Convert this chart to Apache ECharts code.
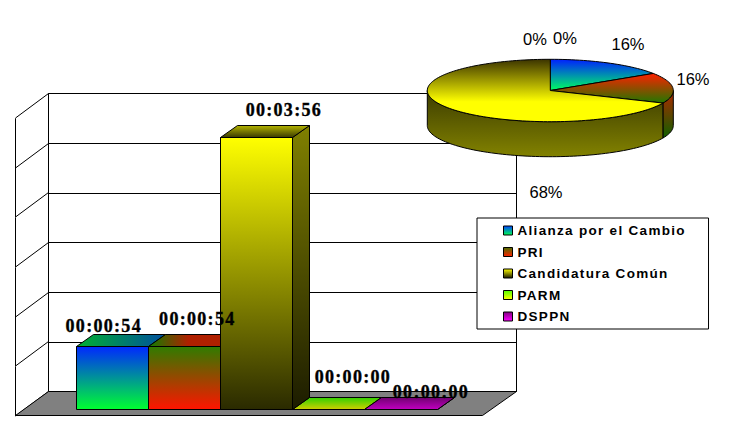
<!DOCTYPE html>
<html><head><meta charset="utf-8">
<style>
html,body{margin:0;padding:0;background:#fff}
#c{width:731px;height:435px}
svg text[style*="bold"]{letter-spacing:1.3px}
</style>
<script src="https://cdn.jsdelivr.net/npm/echarts@6/dist/echarts.min.js"></script>
</head><body><div id="c"></div>
<script>
// ---- data ----
const parties = ['Alianza por el Cambio','PRI','Candidatura Común','PARM','DSPPN'];
const seconds = [54.5,54.5,236,0,0];
const axisTicks = [0,43.2,86.4,129.6,172.8,216,259.2];
const axisMax = 259.2, axisStep = 43.2;

// ---- styling ----
const g=(a,b,x2=0,y2=1)=>new echarts.graphic.LinearGradient(0,0,x2,y2,[{offset:0,color:a},{offset:1,color:b}]);
const g3=(a,m,o,b)=>new echarts.graphic.LinearGradient(0,0,0,1,[{offset:0,color:a},{offset:o,color:m},{offset:1,color:b}]);
const barPaint=[
 {front:g('#0028ff','#00ff30'),top:g('#00b030','#0050a0',1,0),side:g('#0028ff','#00ff30')},
 {front:g('#2f7c00','#ff1400'),top:g('#108000','#b02000',.45,0),side:g('#2f7c00','#ff1400')},
 {front:g('#ffff00','#2a2a00'),top:g('#b4b400','#3a3a00'),side:g('#808000','#1c1c00')},
 {front:g('#60ff00','#ffff00'),top:g('#30d000','#d0d000'),side:g('#60ff00','#ffff00')},
 {front:g('#800080','#ff00ff'),top:g('#700070','#c000c0'),side:g('#800080','#ff00ff')}
];
const legendPaint=[g('#0040ff','#00ff50'),g('#4a7000','#ff2000'),g('#ffff00','#1a1a00'),g('#50ff00','#ffff00'),g('#800080','#ff00ff')];
const pieFace=[g('#0020ff','#00ff60'),g('#ff2000','#207800'),g3('#3c3400','#ffff00',.68,'#ffff00')];
const pieRim=[g('#0020ff','#00ff60'),g('#b02800','#106000'),g('#3c3c00','#828200')];
const ink='#000';
const depth=[17,-12];
const labelNudge=[[-9,-21],[12.5,-28],[27,-28],[24,-33],[30,-18]];
const pieLabelAt=[[628,44],[693,79],[546,192],[565,38],[535,39]];
const total=seconds.reduce((a,b)=>a+b,0);
const pad=n=>String(n).padStart(2,'0');
const clock=s=>{s=Math.floor(s);return pad(Math.floor(s/3600))+':'+pad(Math.floor(s/60)%60)+':'+pad(s%60)};
const snap=v=>Math.round(v-.5)+.5;

const poly=(pts,fill)=>({type:'polygon',shape:{points:pts},style:{fill,stroke:ink,lineWidth:1}});
const line=(a,b)=>({type:'line',shape:{x1:a[0],y1:a[1],x2:b[0],y2:b[1]},style:{stroke:ink,lineWidth:1,fill:null}});

function barSeries(i){
 return {type:'custom',name:parties[i],xAxisIndex:1,yAxisIndex:1,z:5+(i<3?i:-1),
  data:[[i,seconds[i]]],
  renderItem(p,api){
   const top=api.coord([api.value(0),api.value(1)]),base=api.coord([api.value(0),0]);
   const w=api.size([1,0])[0],[dx,dy]=depth;
   const xl=snap(top[0]-w/2),xr=snap(top[0]+w/2),yt=snap(top[1]),yb=snap(base[1]);
   const kids=[
     poly([[xr,yb],[xr+dx,yb+dy],[xr+dx,yt+dy],[xr,yt]],barPaint[i].side),
     poly([[xl,yb],[xr,yb],[xr,yt],[xl,yt]],barPaint[i].front),
     poly([[xl,yt],[xr,yt],[xr+dx,yt+dy],[xl+dx,yt+dy]],barPaint[i].top)
   ];
   return {type:'group',children:kids};
  }};
}
const K=31.2/123;
function squash(pt,cy){return [pt[0],cy+(pt[1]-cy)*K]}
let cum=0;
const pieData=seconds.map((v,i)=>{const d=[1,cum,v,i];cum+=v;return d});
const pieSeries={type:'custom',coordinateSystem:'polar',z:8,data:pieData,
 encode:{radius:0,angle:1},
 renderItem(p,api){
  const s=api.value(1),v=api.value(2),i=api.value(3);
  const ctr=api.coord([0,0]),cy=ctr[1],rimD=35,kids=[];
  if(v>0){
   const arc=(a,b)=>{const n=Math.max(2,Math.ceil((b-a)/total*180)),o=[];
     for(let k=0;k<=n;k++)o.push(squash(api.coord([1,a+(b-a)*k/n]),cy));return o};
   const qA=total/4,qB=total*3/4,a=Math.max(s,qA),b=Math.min(s+v,qB);
   if(b>a){const t=arc(a,b);
     kids.push(poly(t.concat(t.slice().reverse().map(q=>[q[0],q[1]+rimD])),pieRim[i]));}
   kids.push(poly([[ctr[0],cy]].concat(arc(s,s+v)),pieFace[i]));
  }
  return {type:'group',children:kids};
 }};
const pieLabels={type:'custom',coordinateSystem:'polar',z:12,data:pieData,encode:{radius:0,angle:1},
 renderItem(p,api){const i=api.value(3);
  return {type:'text',x:pieLabelAt[i][0],y:pieLabelAt[i][1],
   style:{text:Math.round(api.value(2)/total*100)+'%',font:'16.5px "Liberation Sans"',fill:'#000',align:'center',verticalAlign:'middle'}};
 }};
const barLabels={type:'custom',xAxisIndex:1,yAxisIndex:1,z:12,data:seconds.map((v,i)=>[i,v]),
 renderItem(p,api){const i=api.value(0),c=api.coord([i,api.value(1)]);
  return {type:'text',x:c[0]+labelNudge[i][0],y:c[1]+labelNudge[i][1],
   style:{text:clock(api.value(1)),font:'bold 18px "Liberation Serif"',fill:'#000',stroke:'#000',lineWidth:.35,align:'center',verticalAlign:'middle'}};
 }};
const walls={type:'custom',xAxisIndex:0,yAxisIndex:0,z:2,data:axisTicks.map(t=>[0,t]),
 renderItem(p,api){const q=api.coord([0,api.value(1)]);
  const x=snap(q[0]),y=snap(q[1]);
  const kids=[line([x,y],[x-33,y+24.5])];
  if(api.value(1)<axisMax)kids.push(line([x-33,y+24.5],[x-33,y+24.5-49.7]));
  return {type:'group',children:kids};
 }};
const floor={type:'custom',xAxisIndex:0,yAxisIndex:0,z:3,data:[[0,0]],
 renderItem(p,api){const l=api.coord([0,0]),r=api.coord([1,0]);
  const yb=snap(l[1]);
  return poly([[snap(l[0]),yb],[snap(r[0]),yb],[snap(r[0])-34,yb+24],[snap(l[0])-33,yb+24]],'#808080');
 }};

const chart=echarts.init(document.getElementById('c'),null,{renderer:'svg'});
chart.setOption({
 animation:false,backgroundColor:'#fff',
 legend:{orient:'vertical',left:477,top:218,z:20,selectedMode:false,
  backgroundColor:'#fff',borderColor:'#000',borderWidth:1,
  padding:[5.5,50,5.5,26],itemWidth:9,itemHeight:9,itemGap:7.5,
  textStyle:{fontFamily:'Liberation Sans',fontWeight:'bold',fontSize:13.5,color:'#000',lineHeight:13},
  data:parties.map((n,i)=>({name:n,icon:'rect',itemStyle:{color:legendPaint[i],borderColor:'#000',borderWidth:1}}))},
 grid:[
  {left:48.5,top:93.5,width:468,height:298,show:true,borderColor:'#000',borderWidth:1,backgroundColor:'#fff'},
  {left:76.7,top:111.3,width:360.3,height:298.2}
 ],
 xAxis:[
  {gridIndex:0,type:'value',min:0,max:1,show:false},
  {gridIndex:1,type:'category',data:parties,show:false}
 ],
 yAxis:[
  {gridIndex:0,type:'value',min:0,max:axisMax,interval:axisStep,
   axisLine:{show:false},axisTick:{show:false},axisLabel:{show:false},
   splitLine:{show:true,lineStyle:{color:'#000',width:1}}},
  {gridIndex:1,type:'value',min:0,max:axisMax,interval:axisStep,show:false}
 ],
 polar:{center:[550.3,90.5],radius:[0,123]},
 angleAxis:{type:'value',min:0,max:total,startAngle:90,clockwise:true,show:false},
 radiusAxis:{type:'value',min:0,max:1,show:false},
 series:[walls,floor,...parties.map((_,i)=>barSeries(i)),pieSeries,pieLabels,barLabels]
});
</script></body></html>
